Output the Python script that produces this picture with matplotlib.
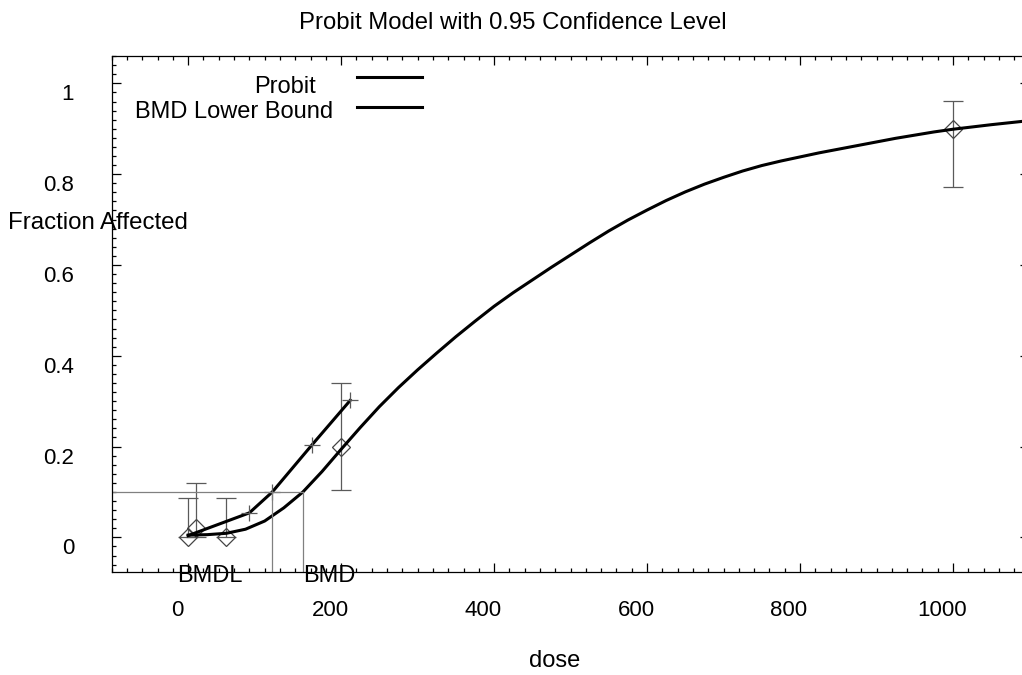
import matplotlib
matplotlib.use('Agg')
import matplotlib.pyplot as plt
import matplotlib.transforms as mtransforms
from matplotlib.lines import Line2D
from matplotlib.ticker import MultipleLocator

plt.rcParams['font.family'] = ['Liberation Sans', 'DejaVu Sans']

# observed data (dose groups) with confidence bars
dose = [0, 10, 50, 200, 1000]
frac = [0.0, 0.02, 0.0, 0.2, 0.9]
ci_low = [0.0, 0.0, 0.0, 0.104, 0.772]
ci_high = [0.087, 0.119, 0.087, 0.341, 0.962]

# fitted probit curve
fit_dose = [0, 25, 50, 75, 100, 125, 150, 175, 200, 225, 250, 275, 300, 325,
            350, 375, 400, 425, 450, 475, 500, 525, 550, 575, 600, 625, 650,
            675, 700, 725, 750, 775, 800, 825, 850, 875, 900, 925, 950, 975,
            1000, 1050, 1100]
fit_frac = [0.005, 0.006, 0.009, 0.018, 0.036, 0.065, 0.100, 0.145, 0.194,
            0.242, 0.288, 0.330, 0.369, 0.406, 0.442, 0.476, 0.509, 0.539,
            0.567, 0.595, 0.622, 0.649, 0.675, 0.699, 0.721, 0.742, 0.761,
            0.778, 0.793, 0.807, 0.819, 0.829, 0.838, 0.847, 0.855, 0.863,
            0.871, 0.879, 0.886, 0.893, 0.899, 0.909, 0.918]

# BMD lower bound line
lb_dose = [0, 80, 110, 162, 212]
lb_frac = [0.004, 0.054, 0.100, 0.204, 0.302]

bmr = 0.1
bmd = 150
bmdl = 110

x_range = (-100, 1100)
y_range = (-0.077, 1.061)

fig = plt.figure(figsize=(10.22, 6.75), dpi=100)
ax = fig.add_axes([0.1093, 0.1521, 0.898, 0.7654])

grey = '#5a5a5a'
ax.errorbar(dose, frac, yerr=[[f - l for f, l in zip(frac, ci_low)],
                               [h - f for f, h in zip(frac, ci_high)]],
            fmt='none', ecolor=grey, elinewidth=0.9, capsize=7, capthick=0.9)
ax.plot(dose, frac, linestyle='none', marker='D', markersize=9.5,
        markerfacecolor='none', markeredgecolor='#444444', markeredgewidth=0.9)

ax.plot(fit_dose, fit_frac, color='black', linewidth=2.2)
ax.plot(lb_dose, lb_frac, color='black', linewidth=2.2)
ax.plot(lb_dose[1:], lb_frac[1:], linestyle='none', marker='+', markersize=11,
        markeredgecolor=grey, markeredgewidth=0.9)

# BMD / BMDL guide lines
ax.plot([x_range[0], bmd], [bmr, bmr], color='#808080', linewidth=0.9)
ax.plot([bmdl, bmdl], [y_range[0], bmr], color='#808080', linewidth=0.9)
ax.plot([bmd, bmd], [y_range[0], bmr], color='#808080', linewidth=0.9)
ax.annotate('BMDL', xy=(bmdl, y_range[0]), xytext=(-95, -4),
            textcoords='offset pixels', ha='left', va='center', fontsize=17)
ax.annotate('BMD', xy=(bmd, y_range[0]), xytext=(0, -4),
            textcoords='offset pixels', ha='left', va='center', fontsize=17)

ax.set_xlim(*x_range)
ax.set_ylim(*y_range)
ax.set_xticks([0, 200, 400, 600, 800, 1000])
ax.set_yticks([0, 0.2, 0.4, 0.6, 0.8, 1.0])
ax.set_yticklabels(['0', '0.2', '0.4', '0.6', '0.8', '1'])
ax.xaxis.set_minor_locator(MultipleLocator(20))
ax.yaxis.set_minor_locator(MultipleLocator(0.02))
ax.tick_params(which='both', direction='in', top=True, right=True, width=0.9)
ax.tick_params(which='major', length=6.5)
ax.tick_params(which='minor', length=3.2)
ax.tick_params(axis='x', which='major', pad=20, labelsize=16)
ax.tick_params(axis='y', which='major', pad=27, labelsize=16)
for sp in ax.spines.values():
    sp.set_linewidth(0.9)

dx = mtransforms.ScaledTranslation(-0.11, 0, fig.dpi_scale_trans)
dy = mtransforms.ScaledTranslation(0, -0.09, fig.dpi_scale_trans)
for lab in ax.get_xticklabels():
    lab.set_transform(lab.get_transform() + dx)
for lab in ax.get_yticklabels():
    lab.set_transform(lab.get_transform() + dy)

fig.text(513 / 1022, 1 - 23 / 675, 'Probit Model with 0.95 Confidence Level',
         ha='center', va='center', fontsize=17.2)
fig.text(8 / 1022, 1 - 223 / 675, 'Fraction Affected', ha='left', va='center',
         fontsize=17.3)
fig.text(555 / 1022, 1 - 661 / 675, 'dose', ha='center', va='center',
         fontsize=17)

# legend drawn by hand, gnuplot style (text left of the sample line)
fig.text(316 / 1022, 1 - 87 / 675, 'Probit', ha='right', va='center',
         fontsize=17)
fig.text(333 / 1022, 1 - 112 / 675, 'BMD Lower Bound', ha='right',
         va='center', fontsize=17)
for yp in (77, 107):
    fig.add_artist(Line2D([357 / 1022, 422 / 1022], [1 - yp / 675, 1 - yp / 675],
                          color='black', linewidth=2.2))

fig.savefig('out.png', dpi=100)
